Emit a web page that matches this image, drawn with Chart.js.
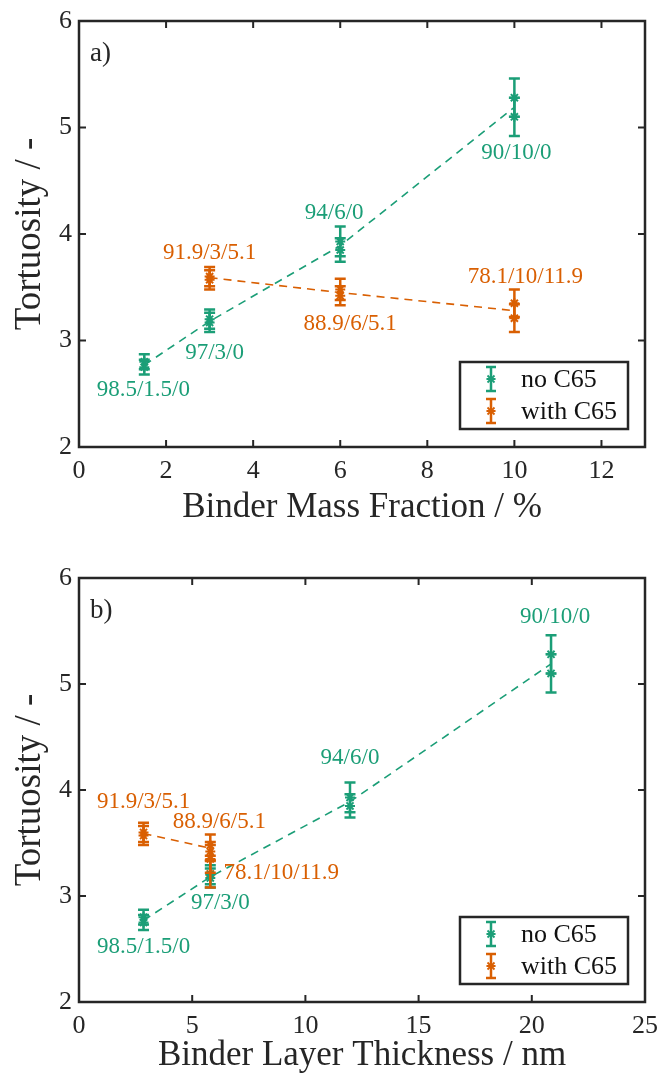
<!DOCTYPE html>
<html><head><meta charset="utf-8">
<script src="https://cdn.jsdelivr.net/npm/chart.js@4.4.1/dist/chart.umd.min.js"></script>
<style>
html,body{margin:0;padding:0;background:#fff;}
#wrap{position:relative;width:661px;height:1077px;overflow:hidden;}
canvas{position:absolute;left:0;}
</style></head><body>
<div id="wrap">
<canvas id="c1" width="661" height="540" style="top:0"></canvas>
<canvas id="c2" width="661" height="537" style="top:540px"></canvas>
</div>
<script>
// ---------- data ----------
const noC65Labels = ['98.5/1.5/0', '97/3/0', '94/6/0', '90/10/0'];
const noC65Mass = [1.5, 3, 6, 10];
const noC65Thick = [2.85, 5.8, 11.97, 20.85];
const noC65A = [2.80, 3.20, 3.93, 5.28];
const noC65AErr = [0.07, 0.09, 0.14, 0.18];
const noC65B = [2.75, 3.17, 3.85, 5.10];
const noC65BErr = [0.07, 0.09, 0.11, 0.18];
const noC65Mean = [2.77, 3.18, 3.89, 5.19];

const withC65Labels = ['91.9/3/5.1', '88.9/6/5.1', '78.1/10/11.9'];
const withC65Mass = [3, 6, 10];
const withC65Thick = [2.85, 5.8, 5.8];
const withC65A = [3.60, 3.48, 3.35];
const withC65AErr = [0.09, 0.10, 0.13];
const withC65B = [3.57, 3.42, 3.21];
const withC65BErr = [0.09, 0.09, 0.13];
const withC65Mean = [3.59, 3.45, 3.28];

const yTicks = [2, 3, 4, 5, 6];
const xTicksMass = [0, 2, 4, 6, 8, 10, 12];
const xTicksThick = [0, 5, 10, 15, 20, 25];
const legendLabels = ['no C65', 'with C65'];

// ---------- style ----------
const GREEN = '#1b9e77';
const ORANGE = '#d95f02';
const AX = '#262626';
const SERIF = "'Liberation Serif', 'Times New Roman', serif";

function pts(xs, ys) { return xs.map((x, i) => ({x: x, y: ys[i]})); }

const framePlugin = {
  id: 'frame',
  afterDraw(chart) {
    const {ctx, chartArea: a, scales: {x, y}} = chart;
    ctx.save();
    ctx.strokeStyle = AX;
    ctx.lineWidth = 2;
    const tl = 7;
    ctx.beginPath();
    x.ticks.forEach(t => {
      const px = x.getPixelForValue(t.value);
      ctx.moveTo(px, a.bottom); ctx.lineTo(px, a.bottom - tl);
      ctx.moveTo(px, a.top); ctx.lineTo(px, a.top + tl);
    });
    y.ticks.forEach(t => {
      const py = y.getPixelForValue(t.value);
      ctx.moveTo(a.left, py); ctx.lineTo(a.left + tl, py);
      ctx.moveTo(a.right, py); ctx.lineTo(a.right - tl, py);
    });
    ctx.stroke();
    ctx.lineWidth = 2.5;
    ctx.strokeRect(a.left, a.top, a.right - a.left, a.bottom - a.top);
    const tag = chart.options.plugins.frame.tag;
    ctx.fillStyle = AX;
    ctx.font = '27px ' + SERIF;
    ctx.textBaseline = 'middle';
    ctx.textAlign = 'left';
    ctx.fillText(tag, a.left + 11, a.top + 33);
    ctx.restore();
  }
};

const errorBarPlugin = {
  id: 'errbars',
  afterDatasetsDraw(chart) {
    const {ctx, scales: {y}} = chart;
    ctx.save();
    chart.data.datasets.forEach((ds, di) => {
      if (!ds.errors) return;
      const meta = chart.getDatasetMeta(di);
      ctx.strokeStyle = ds.borderColor;
      ctx.lineWidth = 2.5;
      meta.data.forEach((el, i) => {
        const v = ds.data[i].y, e = ds.errors[i];
        const y1 = y.getPixelForValue(v - e), y2 = y.getPixelForValue(v + e);
        const cx = el.x, w = 5.5;
        ctx.beginPath();
        ctx.moveTo(cx, y1); ctx.lineTo(cx, y2);
        ctx.moveTo(cx - w, y1); ctx.lineTo(cx + w, y1);
        ctx.moveTo(cx - w, y2); ctx.lineTo(cx + w, y2);
        ctx.stroke();
      });
    });
    ctx.restore();
  }
};

const labelPlugin = {
  id: 'ptlabels',
  afterDraw(chart) {
    const {ctx, scales: {x, y}} = chart;
    const groups = chart.options.plugins.ptlabels.groups;
    ctx.save();
    ctx.font = '23px ' + SERIF;
    ctx.textAlign = 'center';
    ctx.textBaseline = 'middle';
    groups.forEach(g => {
      ctx.fillStyle = g.color;
      g.texts.forEach((t, i) => {
        const px = x.getPixelForValue(g.xs[i]) + g.off[i][0];
        const py = y.getPixelForValue(g.ys[i]) + g.off[i][1];
        ctx.fillText(t, px, py);
      });
    });
    ctx.restore();
  }
};

const legendPlugin = {
  id: 'boxlegend',
  afterDraw(chart) {
    const {ctx, chartArea: a} = chart;
    const W = 168, H = 67;
    const x0 = a.right - 17 - W, y0 = a.bottom - 18 - H;
    ctx.save();
    ctx.fillStyle = '#fff';
    ctx.fillRect(x0, y0, W, H);
    ctx.strokeStyle = AX;
    ctx.lineWidth = 2.5;
    ctx.strokeRect(x0, y0, W, H);
    const cols = [GREEN, ORANGE];
    legendLabels.forEach((lab, i) => {
      const cy = y0 + 17 + i * 32;
      const cx = x0 + 31;
      ctx.strokeStyle = cols[i];
      ctx.lineWidth = 2.5;
      ctx.beginPath();
      ctx.moveTo(cx, cy - 12); ctx.lineTo(cx, cy + 12);
      ctx.moveTo(cx - 5, cy - 12); ctx.lineTo(cx + 5, cy - 12);
      ctx.moveTo(cx - 5, cy + 12); ctx.lineTo(cx + 5, cy + 12);
      ctx.stroke();
      ctx.lineWidth = 1.8;
      const r = 3.5;
      ctx.beginPath();
      ctx.moveTo(cx - r, cy - r); ctx.lineTo(cx + r, cy + r);
      ctx.moveTo(cx - r, cy + r); ctx.lineTo(cx + r, cy - r);
      ctx.moveTo(cx - r * 1.3, cy); ctx.lineTo(cx + r * 1.3, cy);
      ctx.stroke();
      ctx.fillStyle = '#111';
      ctx.font = '26px ' + SERIF;
      ctx.textAlign = 'left';
      ctx.textBaseline = 'middle';
      ctx.fillText(lab, x0 + 61, cy + 1);
    });
    ctx.restore();
  }
};

function measurementSet(xs, ys, errs, color) {
  return {
    type: 'scatter', data: pts(xs, ys), errors: errs,
    borderColor: color, backgroundColor: color,
    pointStyle: 'star', pointRadius: 5, borderWidth: 2, showLine: false
  };
}
function meanLine(xs, ys, color) {
  return {
    type: 'line', data: pts(xs, ys), borderColor: color, borderWidth: 1.6,
    borderDash: [8, 6], pointRadius: 0, fill: false, tension: 0
  };
}

function zeroPad(s) { s.paddingLeft = 0; s.paddingRight = 0; s.paddingTop = 0; s.paddingBottom = 0; }

function makeChart(canvas, c) {
  return new Chart(canvas, {
    type: 'scatter',
    data: {
      datasets: [
        meanLine(c.gx, noC65Mean, GREEN),
        meanLine(c.ox, withC65Mean, ORANGE),
        measurementSet(c.gx, noC65A, noC65AErr, GREEN),
        measurementSet(c.gx, noC65B, noC65BErr, GREEN),
        measurementSet(c.ox, withC65A, withC65AErr, ORANGE),
        measurementSet(c.ox, withC65B, withC65BErr, ORANGE)
      ]
    },
    options: {
      responsive: false, animation: false, events: [],
      layout: {padding: {top: c.padTop, right: 16, left: 0, bottom: 0}},
      plugins: {
        legend: {display: false}, tooltip: {enabled: false},
        frame: {tag: c.tag},
        ptlabels: {groups: [
          {texts: noC65Labels, xs: c.gx, ys: noC65Mean, color: GREEN, off: c.gOff},
          {texts: withC65Labels, xs: c.ox, ys: withC65Mean, color: ORANGE, off: c.oOff}
        ]}
      },
      scales: {
        x: {
          type: 'linear', min: 0, max: c.xMax,
          grid: {display: false, drawTicks: false}, border: {display: false},
          afterBuildTicks: s => { s.ticks = c.xTicks.map(v => ({value: v})); },
          afterFit: s => { s.height = c.xAxisH; zeroPad(s); },
          ticks: {font: {family: SERIF, size: 26, lineHeight: 1}, color: AX, padding: 11, maxRotation: 0, autoSkip: false},
          title: {display: true, text: c.xTitle, font: {family: SERIF, size: 35, lineHeight: 1}, color: AX, padding: {top: 0, bottom: c.xTitlePad}}
        },
        y: {
          type: 'linear', min: 2, max: 6,
          grid: {display: false, drawTicks: false}, border: {display: false},
          afterBuildTicks: s => { s.ticks = yTicks.map(v => ({value: v})); },
          afterFit: s => { s.width = 79; zeroPad(s); },
          ticks: {font: {family: SERIF, size: 26, lineHeight: 1}, color: AX, padding: 7, autoSkip: false},
          title: {display: true, text: 'Tortuosity / -', font: {family: SERIF, size: 37, lineHeight: 1}, color: AX, padding: {top: 12, bottom: 0}}
        }
      }
    },
    plugins: [framePlugin, errorBarPlugin, labelPlugin, legendPlugin]
  });
}

makeChart(document.getElementById('c1'), {
  tag: 'a)', gx: noC65Mass, ox: withC65Mass, xMax: 13, xTicks: xTicksMass,
  xTitle: 'Binder Mass Fraction / %', padTop: 21, xAxisH: 93, xTitlePad: 15,
  gOff: [[-1, 25], [5, 32], [-6, -33], [2, 46]],
  oOff: [[0, -25], [10, 31], [11, -34]]
});
makeChart(document.getElementById('c2'), {
  tag: 'b)', gx: noC65Thick, ox: withC65Thick, xMax: 25, xTicks: xTicksThick,
  xTitle: 'Binder Layer Thickness / nm', padTop: 38, xAxisH: 75, xTitlePad: 4,
  gOff: [[0, 27], [10, 26], [0, -44], [4, -47]],
  oOff: [[0, -32], [9, -26], [71, 7]]
});
</script>
</body></html>
